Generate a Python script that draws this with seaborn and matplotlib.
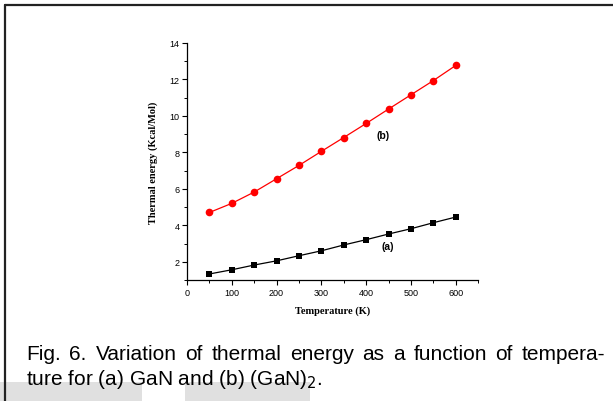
import numpy as np
import pandas as pd
import matplotlib
matplotlib.use("Agg")
import matplotlib.pyplot as plt
import seaborn as sns
from matplotlib.ticker import MultipleLocator
from matplotlib.patches import Rectangle
from matplotlib.lines import Line2D

temperature = [50, 100, 150, 200, 250, 300, 350, 400, 450, 500, 550, 600]
energy_a = [1.33, 1.56, 1.82, 2.05, 2.33, 2.60, 2.92, 3.21, 3.52, 3.81, 4.14, 4.45]
energy_b = [4.70, 5.20, 5.82, 6.55, 7.28, 8.05, 8.81, 9.58, 10.37, 11.15, 11.93, 12.76]
series_labels = ["(a)", "(b)"]
caption_lines = ["Fig. 6. Variation of thermal energy as a function of tempera-",
                 "ture for (a) GaN and (b) (GaN)$_2$."]

sns.set_style("ticks")
plt.rcParams['font.family'] = ['Liberation Sans', 'DejaVu Sans']
plt.rcParams['text.color'] = 'black'
plt.rcParams['axes.labelcolor'] = 'black'
plt.rcParams['xtick.color'] = 'black'
plt.rcParams['ytick.color'] = 'black'
plt.rcParams['axes.edgecolor'] = 'black'

df = pd.DataFrame({
    "T": temperature * 2,
    "E": energy_a + energy_b,
    "s": [series_labels[0]] * len(temperature) + [series_labels[1]] * len(temperature),
})

fig = plt.figure(figsize=(6.13, 4.02), dpi=100)
ax = fig.add_axes([0.305, 0.301, 0.475, 0.590])

sns.lineplot(data=df[df.s == "(a)"], x="T", y="E", ax=ax, color="black",
             marker="s", markersize=5, markeredgewidth=0, linewidth=0.9)
sns.lineplot(data=df[df.s == "(b)"], x="T", y="E", ax=ax, color="#ff0000",
             marker="o", markersize=5.5, markeredgewidth=0, linewidth=0.9)

ax.set_xlim(0, 650)
ax.set_ylim(1, 14)
ax.xaxis.set_minor_locator(MultipleLocator(50))
ax.yaxis.set_minor_locator(MultipleLocator(1))
ax.set_yticks([2, 4, 6, 8, 10, 12, 14])
ax.set_xticks([0, 100, 200, 300, 400, 500, 600])
ax.tick_params(which="major", length=3.5, width=0.8, labelsize=6.5, pad=2, color="black",
               labelcolor="black")
ax.tick_params(which="minor", length=2, width=0.7, color="black")
for sp in ["top", "right"]:
    ax.spines[sp].set_visible(False)
for sp in ["left", "bottom"]:
    ax.spines[sp].set_linewidth(0.9)
    ax.spines[sp].set_color("black")

ax.set_xlabel("Temperature (K)", fontfamily="Liberation Serif", fontweight="bold",
              fontsize=7.5, labelpad=6, color="black")
ax.set_ylabel("Thermal energy (Kcal/Mol)", fontfamily="Liberation Serif", fontweight="bold",
              fontsize=7.5, labelpad=8, color="black")

ax.text(438, 8.96, "(b)", fontsize=7.5, fontweight="bold", ha="center", va="center", color="black")
ax.text(449, 2.84, "(a)", fontsize=7.5, fontweight="bold", ha="center", va="center", color="black")

# caption: first line justified between x=26 and x=605 px
cap_size = 15
x0, x1 = 26, 605
y1 = 1 - 355 / 402
fig.canvas.draw()
renderer = fig.canvas.get_renderer()
words = caption_lines[0].split(" ")
texts = [fig.text(0, y1, w, fontsize=cap_size, ha="left", va="center", color="black") for w in words]
widths = [t.get_window_extent(renderer=renderer).width for t in texts]
gap = (x1 - x0 - sum(widths)) / (len(words) - 1)
xpos = x0
for t, w in zip(texts, widths):
    t.set_x(xpos / 613)
    xpos += w + gap
fig.text(x0 / 613, 1 - 380 / 402, caption_lines[1], fontsize=cap_size, ha="left", va="center",
         color="black")

# page frame lines
fig.add_artist(Line2D([4.5 / 613, 1], [1 - 5.5 / 402] * 2, transform=fig.transFigure,
                      color="#222222", linewidth=1.6))
fig.add_artist(Line2D([4.5 / 613] * 2, [0, 1 - 5.5 / 402], transform=fig.transFigure,
                      color="#222222", linewidth=1.6))

# grey watermark blocks at bottom
fig.add_artist(Rectangle((0, 0), 142 / 613, 19 / 402, transform=fig.transFigure,
                         facecolor="#e0e0e0", edgecolor="none", zorder=-1))
fig.add_artist(Rectangle((185 / 613, 0), 125 / 613, 19 / 402, transform=fig.transFigure,
                         facecolor="#e0e0e0", edgecolor="none", zorder=-1))

fig.savefig("out.png", dpi=100)
